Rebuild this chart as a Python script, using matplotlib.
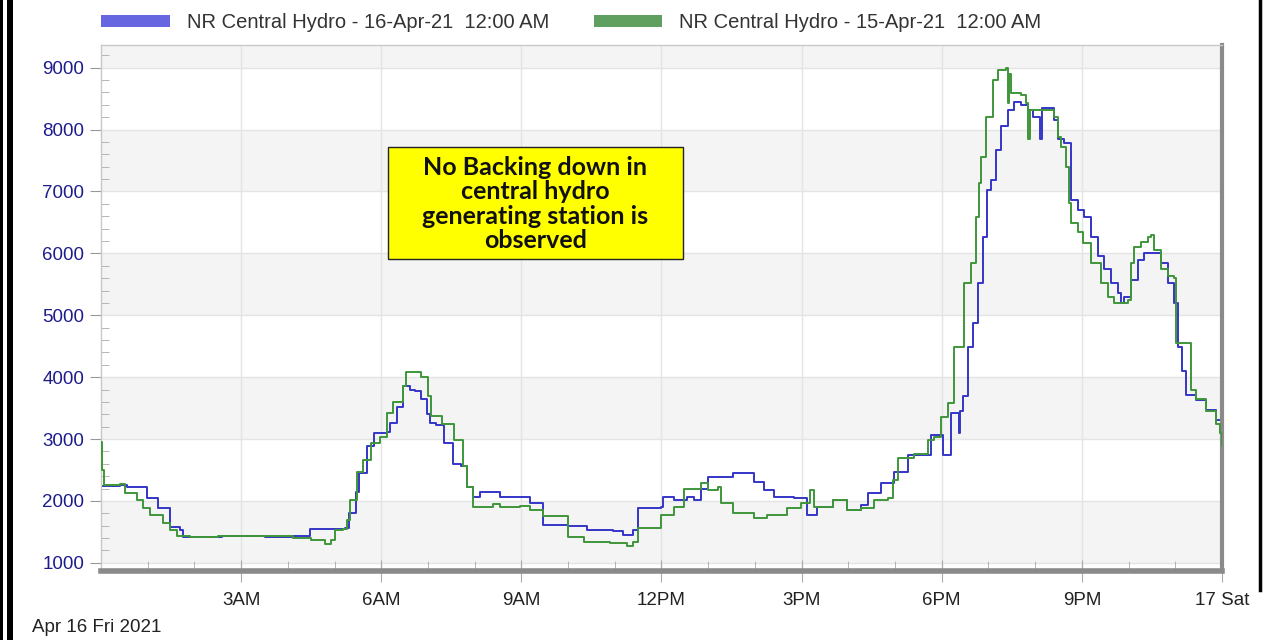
import matplotlib
matplotlib.use("Agg")
from matplotlib import pyplot as plt
from matplotlib.patches import Patch, Rectangle
from matplotlib.lines import Line2D
from matplotlib.ticker import MultipleLocator

# hours since midnight, MW
t_apr16 = [0.00, 0.40, 0.55, 0.99, 1.22, 1.48, 1.70, 1.76, 2.20, 2.60, 3.00, 3.50,
           4.11, 4.48, 5.23, 5.30, 5.45, 5.53, 5.70, 5.85, 6.13, 6.19, 6.34, 6.47,
           6.62, 6.73, 6.84, 6.98, 7.04, 7.17, 7.34, 7.53, 7.70, 7.84, 7.97, 8.12,
           8.40, 8.55, 8.98, 9.19, 9.47, 9.99, 10.41, 10.97, 11.18, 11.40, 11.49, 11.98,
           12.04, 12.26, 12.55, 12.69, 12.84, 12.99, 13.54, 13.98, 14.19, 14.40, 14.83, 15.12,
           15.34, 15.68, 15.98, 16.28, 16.42, 16.70, 16.97, 17.27, 17.76, 18.02, 18.19, 18.36,
           18.40, 18.45, 18.56, 18.67, 18.77, 18.88, 18.98, 19.05, 19.16, 19.26, 19.41, 19.54,
           19.69, 19.84, 19.95, 20.10, 20.14, 20.40, 20.48, 20.61, 20.76, 20.91, 21.04, 21.19,
           21.34, 21.47, 21.62, 21.77, 21.83, 21.90, 22.05, 22.20, 22.33, 22.54, 22.69, 22.84,
           22.97, 23.06, 23.15, 23.23, 23.44, 23.66, 23.87, 24.00]
v_apr16 = [2240, 2250, 2220, 2050, 1890, 1580, 1530, 1420, 1410, 1430, 1430, 1425,
           1440, 1550, 1570, 1810, 2150, 2450, 2880, 3100, 3110, 3260, 3520, 3850,
           3800, 3780, 3640, 3400, 3260, 3220, 2940, 2590, 2570, 2230, 2070, 2150,
           2140, 2070, 2060, 1970, 1610, 1590, 1530, 1520, 1450, 1530, 1890, 1900,
           2070, 2020, 2070, 2020, 2200, 2390, 2450, 2310, 2180, 2070, 2050, 1780,
           1910, 2020, 1850, 1940, 2130, 2290, 2470, 2740, 3070, 2740, 3420, 3100,
           3450, 3700, 4490, 4880, 5520, 6270, 7030, 7190, 7670, 8050, 8320, 8450,
           8400, 8320, 8210, 7840, 8350, 8160, 7840, 7790, 6860, 6700, 6590, 6270,
           5950, 5740, 5520, 5360, 5200, 5300, 5570, 5900, 6010, 6010, 5850, 5520,
           5200, 4490, 4100, 3710, 3630, 3470, 3310, 3230]

t_apr15 = [0.00, 0.03, 0.06, 0.40, 0.51, 0.77, 0.90, 1.05, 1.33, 1.48, 1.63, 1.91,
           2.50, 3.00, 3.50, 4.11, 4.50, 4.80, 4.93, 5.00, 5.18, 5.27, 5.33, 5.48,
           5.61, 5.78, 5.98, 6.13, 6.26, 6.47, 6.53, 6.84, 7.00, 7.07, 7.29, 7.55,
           7.74, 7.84, 7.97, 8.40, 8.55, 8.98, 9.19, 9.47, 9.99, 10.34, 10.90, 11.26,
           11.40, 11.49, 11.98, 12.26, 12.48, 12.84, 12.99, 13.20, 13.27, 13.54, 13.98, 14.26,
           14.69, 14.98, 15.19, 15.26, 15.68, 15.98, 16.28, 16.54, 16.84, 16.95, 17.06, 17.40,
           17.70, 17.83, 17.98, 18.13, 18.26, 18.47, 18.62, 18.73, 18.79, 18.84, 18.94, 19.09,
           19.20, 19.37, 19.41, 19.43, 19.48, 19.69, 19.80, 19.84, 19.88, 20.27, 20.40, 20.48,
           20.55, 20.66, 20.72, 20.76, 20.91, 21.02, 21.19, 21.40, 21.55, 21.68, 21.98, 22.05,
           22.11, 22.26, 22.41, 22.48, 22.54, 22.69, 22.84, 22.97, 23.02, 23.28, 23.33, 23.44,
           23.66, 23.87, 23.95, 24.00]
v_apr15 = [2950, 2500, 2260, 2270, 2130, 2020, 1890, 1780, 1650, 1530, 1440, 1420,
           1430, 1430, 1435, 1400, 1370, 1300, 1370, 1530, 1540, 1690, 2020, 2470,
           2660, 2940, 3040, 3420, 3600, 3850, 4090, 4000, 3700, 3370, 3250, 2990,
           2560, 2230, 1910, 1950, 1910, 1920, 1850, 1750, 1420, 1340, 1320, 1280,
           1330, 1560, 1780, 1910, 2200, 2290, 2180, 2230, 1970, 1800, 1730, 1780,
           1880, 1960, 2180, 1910, 2020, 1850, 1880, 2020, 2040, 2340, 2700, 2760,
           2990, 3040, 3360, 3580, 4490, 5520, 5850, 6590, 7140, 7560, 8210, 8800,
           8960, 9000, 8430, 8900, 8590, 8560, 8430, 7840, 8320, 8320, 8210, 7880,
           7720, 7400, 6820, 6490, 6350, 6170, 5850, 5520, 5300, 5200, 5250, 5850,
           6110, 6190, 6270, 6300, 6060, 5740, 5630, 5600, 4550, 4550, 3800, 3650,
           3450, 3250, 3100, 2900]

x_ticks = [3, 6, 9, 12, 15, 18, 21, 24]
x_labels = ["3AM", "6AM", "9AM", "12PM", "3PM", "6PM", "9PM", "17 Sat"]
series_names = ["NR Central Hydro - 16-Apr-21  12:00 AM",
                "NR Central Hydro - 15-Apr-21  12:00 AM"]
note = "No Backing down in\ncentral hydro\ngenerating station is\nobserved"

blue = "#3535c8"
green = "#3f963a"

plt.rcParams["font.family"] = ["Liberation Sans", "DejaVu Sans"]

fig = plt.figure(figsize=(12.63, 6.40), dpi=100)
ax = fig.add_axes([0.080, 0.108, 0.8875, 0.822])
ax.set_xlim(0, 24)
ax.set_ylim(870, 9370)

# alternating bands
for lo in [1000, 3000, 5000, 7000, 9000]:
    ax.axhspan(lo, lo + 1000, color="#f4f4f4", zorder=0, lw=0)
for y in range(1000, 10000, 1000):
    ax.axhline(y, color="#e4e4e4", lw=1, zorder=0.5)
for x in x_ticks[:-1]:
    ax.axvline(x, color="#e4e4e4", lw=1, zorder=0.5)

ax.plot(t_apr15, v_apr15, drawstyle="steps-post", color=green, lw=1.4, zorder=3)
ax.plot(t_apr16, v_apr16, drawstyle="steps-post", color=blue, lw=1.4, zorder=2)

# ticks
ax.set_yticks(range(1000, 10000, 1000))
ax.yaxis.set_minor_locator(MultipleLocator(200))
ax.tick_params(axis="y", which="major", direction="out", length=8, color="#999999",
               labelcolor="#1c1c8c", labelsize=13.5, pad=4)
ax.tick_params(axis="y", which="minor", direction="in", length=6, color="#aaaaaa")
ax.set_xticks(x_ticks)
ax.set_xticklabels(x_labels)
ax.xaxis.set_minor_locator(MultipleLocator(1))
ax.tick_params(axis="x", which="major", direction="inout", length=16, color="#aaaaaa",
               labelcolor="#222222", labelsize=13.5, pad=7)
ax.tick_params(axis="x", which="minor", direction="in", length=7, color="#aaaaaa")

for side in ["left", "top"]:
    ax.spines[side].set_color("#c8c8c8")
    ax.spines[side].set_linewidth(1)
ax.spines["bottom"].set_color("#8a8a8a")
ax.spines["bottom"].set_linewidth(4)
ax.spines["right"].set_color("#8a8a8a")
ax.spines["right"].set_linewidth(3)

# note box
ax.add_patch(Rectangle((6.15, 5913), 6.3, 1810, facecolor="#ffff00",
                       edgecolor="#222222", lw=1, zorder=4))
ax.text(9.30, 6800, note, ha="center", va="center", fontsize=18,
        fontweight="bold", family=["Lato", "DejaVu Sans"], linespacing=1.08,
        color="#111111", zorder=5)

# legend
handles = [Patch(facecolor="#6666e0", edgecolor="none"),
           Patch(facecolor="#5f9f5f", edgecolor="none")]
fig.legend(handles, series_names, loc="upper left", bbox_to_anchor=(0.066, 1.008),
           ncol=2, frameon=False, fontsize=14.5, handlelength=3.4, handleheight=0.5,
           handletextpad=0.85, columnspacing=2.2, labelcolor="#333333")

fig.text(32 / 1263, 1 - 627 / 640, "Apr 16 Fri 2021", fontsize=13.5, color="#222222",
         va="center", ha="left")

# frame lines on the left and right edges
for x0, w in [(0, 3), (7, 6)]:
    fig.add_artist(Rectangle((x0 / 1263, 0), w / 1263, 1, transform=fig.transFigure,
                             facecolor="black", edgecolor="none"))
fig.add_artist(Line2D([1260 / 1263, 1260 / 1263], [1 - 590 / 640, 1],
                      transform=fig.transFigure, color="black", lw=2.5))

fig.savefig("out.png", dpi=100)
